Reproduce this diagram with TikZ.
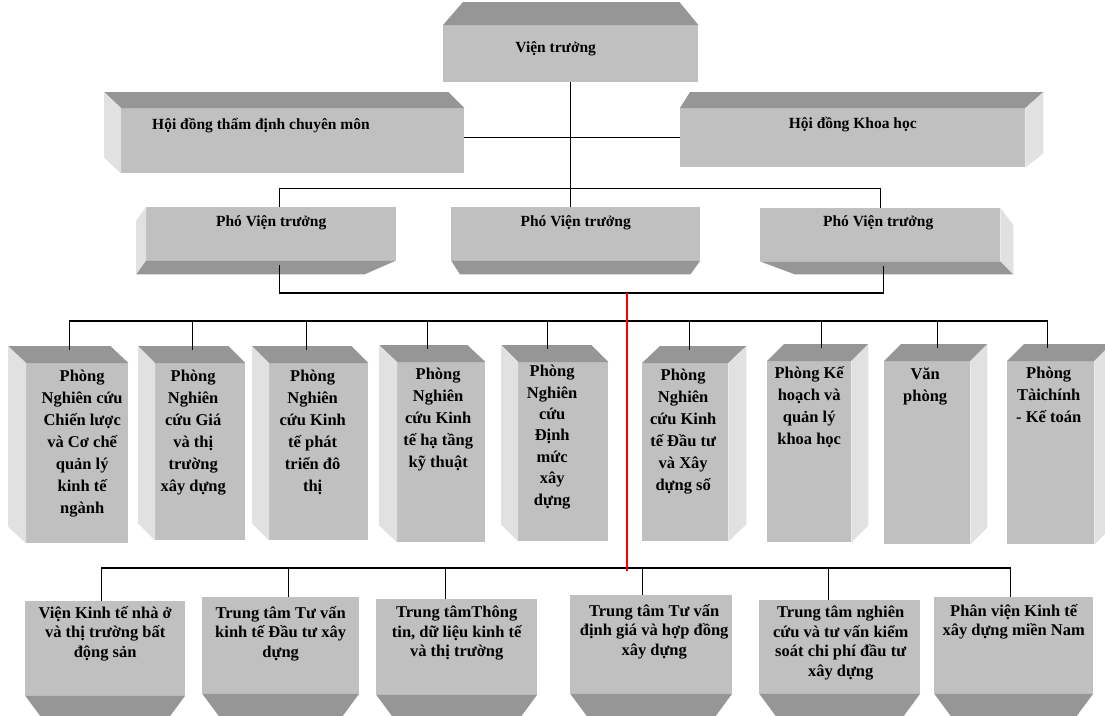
\documentclass[tikz,border=0pt]{standalone}
\usepackage{fontspec}
\setmainfont{Liberation Serif}
\usepackage{tikz}
\usetikzlibrary{positioning, calc}

\definecolor{facegray}{RGB}{192,192,192}
\definecolor{topgray}{RGB}{150,150,150}
\definecolor{sidegray}{RGB}{225,225,225}

\begin{document}
\begin{tikzpicture}[x=1pt, y=-1pt,
    front/.style={rectangle, fill=facegray, inner sep=0pt, anchor=north west},
    topface/.style={fill=topgray},
    sideface/.style={fill=sidegray},
    head/.style={font=\bfseries\fontsize{15.5}{19}\selectfont, inner sep=0pt},
    dept/.style={font=\bfseries\fontsize{16.5}{22}\selectfont, align=center, inner sep=0pt},
    unit/.style={font=\bfseries\fontsize{16.5}{19.5}\selectfont, align=center, inner sep=0pt},
    line/.style={draw, line width=1.2pt},
    redline/.style={draw, red, line width=1.3pt}
]
    \path[fill=white, use as bounding box] (0,0) rectangle (1105,715);
    \clip (0,0) rectangle (1105,715);

    % Leadership
    \node[front, minimum width=255pt, minimum height=57pt] (vt) at (443,25) {};
    \node[front, minimum width=343pt, minimum height=65pt] (hd) at (121,108) {};
    \node[front, minimum width=345pt, minimum height=59pt] (kh) at (680,108) {};
    \node[front, minimum width=250pt, minimum height=53pt] (p1) at (146,207) {};
    \node[front, minimum width=249pt, minimum height=53pt] (p2) at (451,207) {};
    \node[front, minimum width=240pt, minimum height=53pt] (p3) at (760,208) {};

    \fill[topface] (vt.north west) -- (vt.north east) -- ($(vt.north east)+(-19,-23)$) -- ($(vt.north west)+(20,-23)$) -- cycle;
    \fill[topface] (hd.north west) -- (hd.north east) -- ($(hd.north east)+(-16,-16)$) -- ($(hd.north west)+(-17,-16)$) -- cycle;
    \fill[sideface] (hd.north west) -- ($(hd.north west)+(-17,-16)$) -- ($(hd.south west)+(-17,-16)$) -- (hd.south west) -- cycle;
    \fill[topface] (kh.north west) -- (kh.north east) -- ($(kh.north east)+(18,-16)$) -- ($(kh.north west)+(10,-16)$) -- cycle;
    \fill[sideface] (kh.north east) -- ($(kh.north east)+(18,-16)$) -- ($(kh.south east)+(18,-14)$) -- (kh.south east) -- cycle;
    \fill[topface] (p1.south west) -- (p1.south east) -- ($(p1.south east)+(-32,14)$) -- ($(p1.south west)+(-10,14)$) -- cycle;
    \fill[sideface] (p1.north west) -- ($(p1.north west)+(-10,14)$) -- ($(p1.south west)+(-10,14)$) -- (p1.south west) -- cycle;
    \fill[topface] (p2.south west) -- (p2.south east) -- ($(p2.south east)+(-10,14)$) -- ($(p2.south west)+(9,14)$) -- cycle;
    \fill[topface] (p3.south west) -- (p3.south east) -- ($(p3.south east)+(13,13)$) -- ($(p3.south west)+(35,13)$) -- cycle;
    \fill[sideface] (p3.north east) -- ($(p3.north east)+(13,17)$) -- ($(p3.south east)+(13,13)$) -- (p3.south east) -- cycle;

    \node[head] (vt-t) at ($(vt.north)+(-15,24)$) {Viện trưởng};
    \node[head, anchor=west] (hd-t) at ($(hd.north west)+(31,18)$) {Hội đồng thẩm định chuyên môn};
    \node[head] (kh-t) at ($(kh.north)+(0,17)$) {Hội đồng Khoa học};
    \node[head] (p1-t) at ($(p1.north)+(0,16)$) {Phó Viện trưởng};
    \node[head] (p2-t) at ($(p2.north)+(0,16)$) {Phó Viện trưởng};
    \node[head] (p3-t) at ($(p3.north)+(-2,15)$) {Phó Viện trưởng};

    % Departments
    \node[front, minimum width=102pt, minimum height=180pt] (d1) at (26,363) {};
    \node[front, minimum width=90pt, minimum height=177pt] (d2) at (155,363) {};
    \node[front, minimum width=99pt, minimum height=177pt] (d3) at (269,363) {};
    \node[front, minimum width=88pt, minimum height=180pt] (d4) at (397,362) {};
    \node[front, minimum width=90pt, minimum height=179pt] (d5) at (518,362) {};
    \node[front, minimum width=86pt, minimum height=178pt] (d6) at (642,363) {};
    \node[front, minimum width=84pt, minimum height=181pt] (d7) at (767,361) {};
    \node[front, minimum width=86pt, minimum height=183pt] (d8) at (884,361) {};
    \node[front, minimum width=87pt, minimum height=183pt] (d9) at (1007,361) {};

    \foreach \n/\s in {d1/-18, d2/-17, d3/-17, d4/-18, d5/-17} {
        \fill[topface] (\n.north west) -- (\n.north east) -- ($(\n.north east)+(\s,-17)$) -- ($(\n.north west)+(\s,-17)$) -- cycle;
        \fill[sideface] (\n.north west) -- ($(\n.north west)+(\s,-17)$) -- ($(\n.south west)+(\s,-17)$) -- (\n.south west) -- cycle;
    }
    \foreach \n/\s in {d6/18, d7/17, d8/17, d9/17} {
        \fill[topface] (\n.north west) -- (\n.north east) -- ($(\n.north east)+(\s,-17)$) -- ($(\n.north west)+(\s,-17)$) -- cycle;
        \fill[sideface] (\n.north east) -- ($(\n.north east)+(\s,-17)$) -- ($(\n.south east)+(\s,-17)$) -- (\n.south east) -- cycle;
    }

    \node[dept, below=7pt of d1.north, xshift=5pt] (d1-t) {Phòng\\Nghiên cứu\\Chiến lược\\và Cơ chế\\quản lý\\kinh tế\\ngành};
    \node[dept, below=7pt of d2.north, xshift=-7pt] (d2-t) {Phòng\\Nghiên\\cứu Giá\\và thị\\trường\\xây dựng};
    \node[dept, below=7pt of d3.north, xshift=-6pt] (d3-t) {Phòng\\Nghiên\\cứu Kinh\\tế phát\\triển đô\\thị};
    \node[dept, below=6pt of d4.north, xshift=-3pt] (d4-t) {Phòng\\Nghiên\\cứu Kinh\\tế hạ tầng\\kỹ thuật};
    \node[dept, below=3pt of d5.north, xshift=-11pt, font=\bfseries\fontsize{16.5}{21.4}\selectfont] (d5-t) {Phòng\\Nghiên\\cứu\\Định\\mức\\xây\\dựng};
    \node[dept, below=6pt of d6.north, xshift=-2pt] (d6-t) {Phòng\\Nghiên\\cứu Kinh\\tế Đầu tư\\và Xây\\dựng số};
    \node[dept, below=5pt of d7.north] (d7-t) {Phòng Kế\\hoạch và\\quản lý\\khoa học};
    \node[dept, below=7pt of d8.north, xshift=-2pt] (d8-t) {Văn\\phòng};
    \node[dept, below=6pt of d9.north, xshift=-2pt] (d9-t) {Phòng\\Tàichính\\- Kế toán};

    % Units
    \node[front, minimum width=160pt, minimum height=94pt] (l1) at (25,601) {};
    \node[front, minimum width=157pt, minimum height=96pt] (l2) at (202,597) {};
    \node[front, minimum width=161pt, minimum height=95pt] (l3) at (376,599) {};
    \node[front, minimum width=162pt, minimum height=98pt] (l4) at (570,595) {};
    \node[front, minimum width=161pt, minimum height=93pt] (l5) at (759,600) {};
    \node[front, minimum width=159pt, minimum height=96pt] (l6) at (934,597) {};

    \foreach \n in {l1, l2, l3, l4, l5, l6}
        \fill[topface] (\n.south west) -- (\n.south east) -- ($(\n.south east)+(-17,23)$) -- ($(\n.south west)+(17,23)$) -- cycle;

    \node[unit, below=5pt of l1.north] (l1-t) {Viện Kinh tế nhà ở\\và thị trường bất\\động sản};
    \node[unit, below=9pt of l2.north] (l2-t) {Trung tâm Tư vấn\\kinh tế Đầu tư xây\\dựng};
    \node[unit, below=7pt of l3.north] (l3-t) {Trung tâmThông\\tin, dữ liệu kinh tế\\và thị trường};
    \node[unit, below=9pt of l4.north, xshift=3pt] (l4-t) {Trung tâm Tư vấn\\định giá và hợp đồng\\xây dựng};
    \node[unit, below=6pt of l5.north, xshift=1pt] (l5-t) {Trung tâm nghiên\\cứu và tư vấn kiểm\\soát chi phí đầu tư\\xây dựng};
    \node[unit, below=7pt of l6.north] (l6-t) {Phân viện Kinh tế\\xây dựng miền Nam};

    % Connectors
    \coordinate (bp) at ($(vt.south)+(0,106)$);
    \coordinate (b2) at (627,293);
    \coordinate (bd) at (627,321);
    \coordinate (bb) at (627,568);

    \draw[line] (hd.east |- kh.west) -- (kh.west);
    \draw[line] (vt.south) -- (vt.south |- p2.north);
    \draw[line] ([xshift=8pt]p1.north) |- (bp) -| (p3.north);
    \draw[line] ([xshift=8pt,yshift=-5pt]p1.south) |- (b2) -| ([xshift=3pt,yshift=-5pt]p3.south);

    \foreach \n/\dx in {d1/-8, d2/-8, d3/-12, d4/-14, d5/-16, d6/4, d7/12, d8/10, d9/-3}
        \draw[line] ([xshift=\dx pt,yshift=13pt]\n.north) |- (bd);
    \foreach \n/\dx in {l1/-4, l2/8, l3/-11, l4/-9, l5/-11, l6/-3}
        \draw[line] ([xshift=\dx pt]\n.north) |- (bb);

    \draw[redline] (b2) -- ([yshift=-3pt]bb);
\end{tikzpicture}
\end{document}
